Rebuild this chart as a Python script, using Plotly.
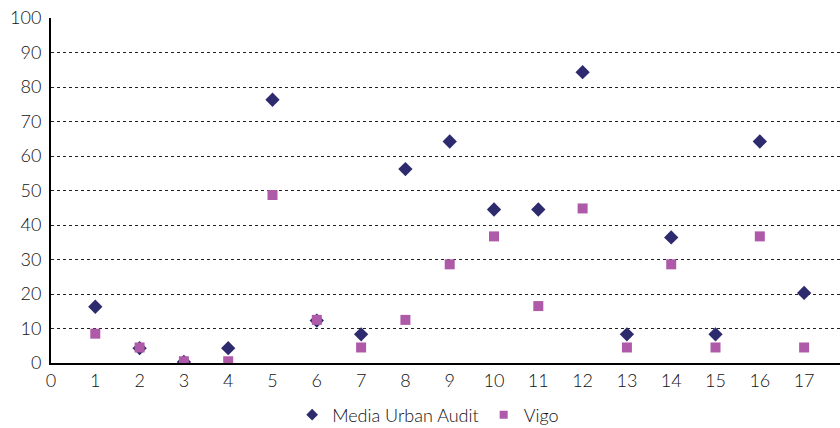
import plotly.graph_objects as go

# -- Data --------------------------------------------------------------------

x_vals = list(range(1, 18))
media_urban_audit = [16.3, 4.3, 0.3, 4.3, 76.3, 12.3, 8.3, 56.2, 64.2, 44.5,
                     44.5, 84.3, 8.3, 36.4, 8.3, 64.2, 20.3]
vigo = [8.5, 4.5, 0.5, 0.5, 48.7, 12.5, 4.5, 12.5, 28.6, 36.7,
        16.5, 44.8, 4.5, 28.6, 4.5, 36.7, 4.5]

x_ticks = list(range(0, 18))
y_ticks = list(range(0, 101, 10))

FONT = "Lato, Liberation Sans, Arial, sans-serif"
NAVY = "#2E2A6E"
ORCHID = "#AE5AA8"

# -- Figure ------------------------------------------------------------------

fig = go.Figure()
fig.add_trace(go.Scatter(
    x=x_vals, y=media_urban_audit, mode="markers", name="Media Urban Audit",
    marker=dict(symbol="diamond", size=11, color=NAVY), showlegend=False,
))
fig.add_trace(go.Scatter(
    x=x_vals, y=vigo, mode="markers", name="Vigo",
    marker=dict(symbol="square", size=10, color=ORCHID), showlegend=False,
))
# legend entries with the smaller legend symbols
fig.add_trace(go.Scatter(
    x=[None], y=[None], mode="markers", name="Media Urban Audit",
    marker=dict(symbol="diamond", size=9, color=NAVY),
))
fig.add_trace(go.Scatter(
    x=[None], y=[None], mode="markers", name="Vigo",
    marker=dict(symbol="square", size=8, color=ORCHID),
))

fig.update_layout(
    width=840, height=428,
    margin=dict(l=51, r=0, t=18, b=65, autoexpand=False),
    paper_bgcolor="white", plot_bgcolor="white",
    font=dict(family=FONT, size=18, color="#111", weight=300),
    showlegend=True,
    legend=dict(orientation="h", x=0.478, xanchor="center", y=-0.097, yanchor="top",
                font=dict(size=18, weight=300), itemsizing="trace",
                itemwidth=30, tracegroupgap=0),
)
fig.update_xaxes(
    range=[0, 17.81], tickvals=x_ticks, showgrid=False, zeroline=False,
    showline=True, linecolor="black", linewidth=2, ticks="", automargin=False,
)
fig.update_yaxes(
    range=[0, 100], tickvals=y_ticks, showgrid=True, gridcolor="#222",
    griddash="dot", gridwidth=1, zeroline=False, automargin=False,
    showline=True, linecolor="black", linewidth=2, ticks="", ticklabelstandoff=4,
)

fig.write_html("out.html", config={"displayModeBar": False},
               post_script="document.body.style.margin='0';")
